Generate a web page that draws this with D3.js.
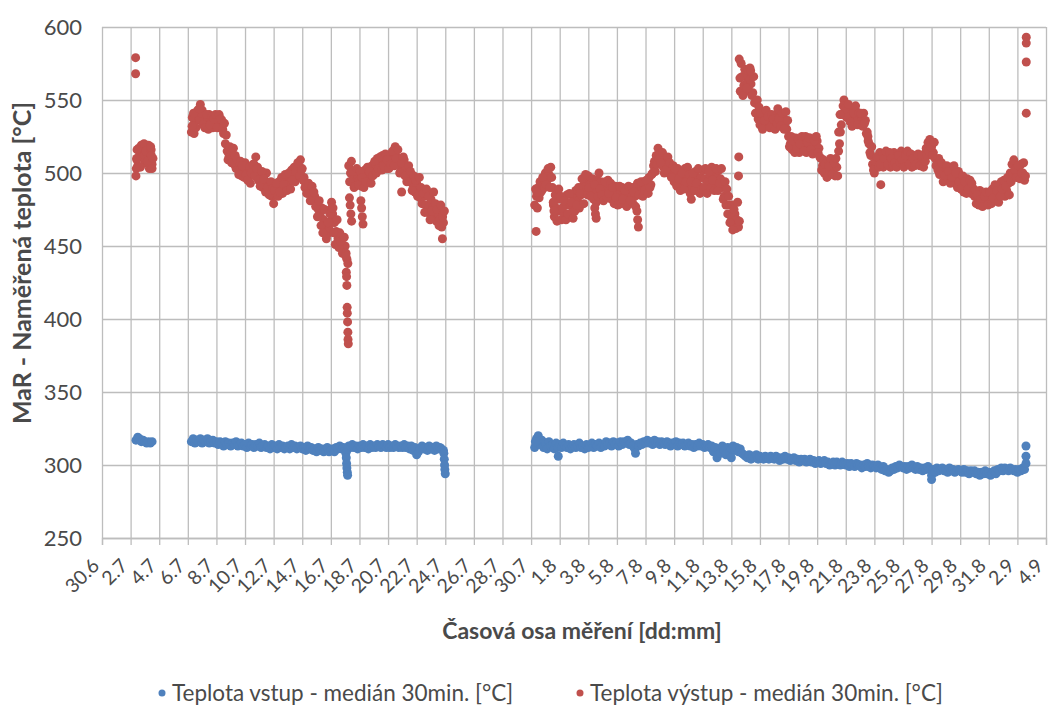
<!DOCTYPE html>
<html>
<head>
<meta charset="utf-8">
<script src="https://cdn.jsdelivr.net/npm/d3@7"></script>
<style>
  body { margin: 0; background: #fff; }
  text { font-family: Lato, "Open Sans", sans-serif; fill: #4a4a4a; }
</style>
</head>
<body>
<svg id="chart" width="1049" height="706"></svg>
<script>
// ---- axis labels ---------------------------------------------------------
// x: days since 30.6, one grid line every 2 days
const dateLabels = ["30.6","2.7","4.7","6.7","8.7","10.7","12.7","14.7","16.7","18.7","20.7","22.7",
  "24.7","26.7","28.7","30.7","1.8","3.8","5.8","7.8","9.8","11.8","13.8","15.8","17.8","19.8",
  "21.8","23.8","25.8","27.8","29.8","31.8","2.9","4.9"];
const dateTickDays = [0,2,4,6,8,10,12,14,16,18,20,22,24,26,28,30,32,34,36,38,40,42,44,46,48,50,52,54,56,58,60,62,64,66];
const tempTicks = [250, 300, 350, 400, 450, 500, 550, 600];

const seriesNames = ["Teplota vstup - medián 30min. [°C]", "Teplota výstup - medián 30min. [°C]"];
const seriesColors = ["#4F81BD", "#C0504D"];
const xTitle = "Časová osa měření [dd:mm]";
const yTitle = "MaR - Naměřená teplota [°C]";

// spacing of the plotted medians inside a run, in days (3 h);
// the "B" runs of the outlet are the readings taken half a step later
const STEP = 0.125;

// ---- inlet temperature (°C) ----------------------------------------------
const inletRun1Start = 2.375;
const inletRun1 = [317,319,318,316,317,316,315,316,315,316];

const inletRun2Start = 6.25;
const inletRun2 = [
  316,318,315,317,316,318,
  315,317,316,318,315,316,317,315,
  316,314,316,315,313,316,314,315,
  313,315,314,316,313,314,315,313,
  314,312,315,313,314,312,314,313,
  315,312,313,314,312,313,311,314,
  312,313,311,314,312,313,311,312,
  313,311,314,312,313,311,312,313,
  311,312,310,313,311,312,310,311,
  309,312,310,311,309,310,312,309,
  310,311,309,312,311,313,311,312,
  311,310,313,312,314,312,313,311,
  313,312,314,312,313,311,314,312,
  313,312,314,313,312,314,313,312,
  314,312,313,312,314,313,312,313,
  312,314,312,313,311,313,310,312,
  307,309,311,313,311,312,310,313,
  311,312,310,313,311,312,311,310];

const inletRun3Start = 30.25;
const inletRun3 = [
  312,318,320,314,317,312,
  315,311,316,313,314,311,315,312,
  314,312,315,313,312,314,311,313,
  314,312,313,315,312,313,311,314,
  312,313,315,312,314,313,315,312,
  314,313,316,314,315,313,316,314,
  315,313,316,314,316,315,317,314,
  315,313,311,314,313,315,314,316,
  315,317,315,316,314,317,315,316,
  314,316,315,314,316,315,313,315,
  314,316,313,315,314,315,313,314,
  315,313,314,312,314,313,315,313,
  314,312,313,314,312,313,309,312,
  305,311,308,313,310,307,312,309,
  311,313,310,312,309,311,308,307,
  306,305,307,304,306,305,307,304,
  306,305,304,306,305,304,306,305,
  304,306,305,303,305,304,306,304,
  305,303,304,305,303,304,302,304,
  303,304,302,303,304,302,303,301,
  302,303,301,302,303,301,302,300,
  301,302,300,302,301,300,302,301,
  300,301,299,301,300,299,301,300,
  300,298,300,299,301,299,298,300,
  299,298,300,298,297,299,296,297,
  295,296,298,297,299,298,300,299,
  298,299,297,299,298,300,298,297,
  299,297,298,296,298,297,299,297,
  293,297,295,298,296,297,298,296,
  297,295,298,296,297,295,296,297,
  296,295,297,295,296,294,296,295,
  296,294,295,293,295,294,296,294,
  295,293,294,296,294,297,296,298,
  296,298,297,296,298,297,296,297,
  295,297,296,298,297];

// isolated inlet readings [day, °C]
const inletSingles = [
  [17.05,308],[17.08,305],[17.10,301],[17.12,298],[17.15,295],[17.17,293],
  [23.90,308],[23.93,304],[23.95,300],[23.97,297],[24.00,294],
  [30.30,316],[31.90,306],[37.30,308],[44.00,305],[58.00,290],
  [64.60,313],[64.60,306],[64.60,301]];

// ---- outlet temperature (°C) ---------------------------------------------
const outletRun1Start = 2.375;
const outletRun1  = [498,505,512,519,513,507,513,519,512,506];
const outletRun1B = [509,517,504,511,520,515,508,503,516,510];

const outletRun2Start = 6.25;
const outletRun2 = [
  528,533,538,536,542,547,
  543,538,534,537,540,535,531,534,
  538,535,531,536,527,520,515,511,
  515,510,506,503,507,502,498,503,
  507,502,497,493,499,506,511,504,
  499,494,490,495,500,493,487,484,
  479,485,490,494,489,486,491,496,
  492,497,502,498,494,500,505,509,
  503,497,492,487,490,485,481,484,
  478,475,471,476,468,463,458,462,
  467,472,466,460,455,459,452,447,
  450,441,505,500,495,490,494,498,
  495,491,497,502,499,495,500,505,
  501,506,510,504,508,512,507,503,
  508,512,509,514,518,511,506,501,
  505,509,503,498,494,499,492,487,
  493,488,483,479,484,478,473,477,
  482,476,471,467,472,468,463,466];
const outletRun2B = [
  538,527,531,543,537,541,
  533,531,540,530,533,539,537,540,
  531,540,537,530,534,526,509,518,
  507,517,512,509,499,508,505,497,
  499,495,504,500,506,498,503,495,
  491,501,496,487,490,485,494,490,
  488,493,484,487,497,492,499,488,
  500,489,495,504,501,507,498,502,
  495,490,486,493,481,491,487,477,
  470,481,464,459,475,455,466,472,
  476,459,451,468,449,453,445,456,
  445,438,494,508,501,491,503,492,
  501,497,490,494,504,501,493,498,
  508,500,503,511,502,505,513,509,
  503,506,515,505,510,516,500,507,
  511,498,494,505,501,488,498,495,
  484,497,490,486,473,489,484,468,
  474,487,479,475,464,478,470,474];

const outletRun3Start = 30.25;
const outletRun3 = [
  478,484,490,494,488,496,
  500,495,499,504,490,470,476,482,
  474,468,473,479,485,478,472,477,
  483,488,481,476,485,491,486,494,
  498,492,487,482,489,495,500,494,
  489,484,490,495,488,482,486,491,
  487,482,486,490,484,480,485,489,
  483,479,484,488,492,486,490,494,
  489,493,497,492,500,508,512,517,
  513,508,504,509,505,500,503,498,
  494,499,503,497,492,498,503,496,
  491,486,490,495,501,496,491,497,
  502,496,490,494,499,504,498,493,
  497,502,496,490,484,478,472,478,
  470,465,472,468,463,556,566,560,
  568,562,556,561,555,548,541,537,
  533,538,542,537,533,538,534,531,
  536,540,544,538,533,538,534,530,
  525,520,516,521,524,518,514,519,
  523,518,514,519,524,520,515,519,
  522,517,510,505,500,504,498,502,
  506,501,498,504,515,528,540,550,
  545,540,544,539,534,538,542,537,
  533,538,541,536,528,520,512,506,
  500,505,510,514,508,504,509,513,
  508,504,509,514,510,506,511,515,
  510,505,509,513,508,504,509,512,
  507,511,506,509,513,517,521,523,
  518,514,510,506,510,505,500,504,
  499,495,500,504,498,493,497,501,
  496,491,487,492,496,490,486,490,
  484,479,483,488,482,478,481,485,
  480,484,489,485,481,486,490,494,
  489,484,488,493,500,506,509,503,
  497,502,506,500,495];
const outletRun3B = [
  489,476,483,487,497,490,
  492,503,490,497,478,485,467,489,
  484,476,481,468,472,486,480,469,
  474,478,490,486,496,479,499,485,
  490,484,496,492,480,484,489,485,
  481,494,483,486,493,490,479,483,
  478,491,479,482,488,477,491,481,
  490,487,477,493,485,494,484,488,
  495,486,490,499,505,501,506,510,
  507,514,500,502,511,507,497,505,
  503,491,496,488,500,489,494,504,
  499,494,500,488,493,503,486,489,
  490,503,486,501,490,495,488,503,
  488,493,503,482,494,489,484,466,
  478,475,462,480,467,575,553,571,
  558,570,564,553,566,541,550,545,
  541,530,536,543,539,531,540,537,
  530,534,537,532,541,530,542,536,
  518,525,522,514,517,523,520,525,
  515,525,521,524,516,513,522,525,
  514,511,502,509,506,497,505,510,
  499,507,510,498,520,533,546,544,
  538,547,535,532,541,546,533,541,
  541,532,534,527,522,514,518,502,
  508,511,504,506,513,510,515,506,
  514,510,505,507,504,512,507,509,
  504,512,515,506,513,510,505,506,
  513,505,512,504,508,512,515,518,
  512,521,505,502,499,507,494,498,
  505,501,493,497,505,500,490,494,
  489,498,494,486,489,495,493,487,
  488,485,478,482,477,484,487,478,
  487,479,483,492,488,480,484,489,
  495,491,497,485,494,500,502,497,
  505,496,500,507,498];

// isolated outlet readings [day, °C]
const outletSingles = [
  [2.35,579],[2.35,568],[2.40,503],[2.42,510],[2.45,516],[3.40,518],[3.45,512],[3.50,503],
  [6.30,532],[6.40,541],[6.80,544],
  [16.05,480],[16.15,476],
  [17.05,443],[17.08,432],[17.10,429],[17.12,423],[17.14,408],[17.15,404],
  [17.17,398],[17.19,391],[17.20,386],[17.22,383],
  [17.30,483],[17.35,478],[17.40,472],[17.45,467],
  [18.10,481],[18.15,476],[18.20,470],[18.25,465],
  [20.95,487],[23.80,455],
  [30.35,460],[30.40,487],[31.55,480],[31.60,474],
  [34.45,476],[34.50,472],[34.55,469],[37.40,474],[37.45,468],[37.50,463],
  [41.20,482],[43.90,466],[44.10,461],
  [44.50,498],[44.52,511],[44.55,578],[44.60,565],[45.30,572],[45.35,570],
  [51.50,528],[51.60,540],[53.55,525],[54.45,492],
  [64.62,593],[64.62,589],[64.62,576],[64.62,541]];

// ---- assemble series -------------------------------------------------------
function runPoints(start, values) {
  return values.map((v, i) => [start + i * STEP, v]);
}
const inletPoints = [
  ...runPoints(inletRun1Start, inletRun1),
  ...runPoints(inletRun2Start, inletRun2),
  ...runPoints(inletRun3Start, inletRun3),
  ...inletSingles];
const outletPoints = [
  ...runPoints(outletRun1Start, outletRun1),
  ...runPoints(outletRun1Start + STEP / 2, outletRun1B),
  ...runPoints(outletRun2Start, outletRun2),
  ...runPoints(outletRun2Start + STEP / 2, outletRun2B),
  ...runPoints(outletRun3Start, outletRun3),
  ...runPoints(outletRun3Start + STEP / 2, outletRun3B),
  ...outletSingles];
const series = [inletPoints, outletPoints];

// ---- layout ----------------------------------------------------------------
const svg = d3.select("#chart");
const plot = { left: 102, right: 1046, top: 27, bottom: 538 };

const x = d3.scaleLinear().domain([0, 66]).range([plot.left, plot.right]);
const y = d3.scaleLinear().domain([250, 600]).range([plot.bottom, plot.top]);

const gridColor = "#bdbdbd";

// horizontal grid + value labels
const yAxis = svg.append("g")
  .attr("transform", `translate(${plot.left},0)`)
  .call(d3.axisLeft(y).tickValues(tempTicks).tickSize(-(plot.right - plot.left)).tickPadding(20));
yAxis.select(".domain").remove();
yAxis.selectAll(".tick line").attr("stroke", gridColor).attr("stroke-width", 1.3);
yAxis.selectAll(".tick text")
  .style("font-size", "22px").attr("fill", "#4a4a4a");

// vertical grid every 2 days
const xGrid = svg.append("g")
  .attr("transform", `translate(0,${plot.bottom})`)
  .call(d3.axisBottom(x).tickValues(dateTickDays).tickSize(-(plot.bottom - plot.top)).tickFormat(""));
xGrid.select(".domain").remove();
xGrid.selectAll(".tick line").attr("stroke", gridColor).attr("stroke-width", 1.3);

// date axis: short tick marks below the baseline and rotated labels
const xAxis = svg.append("g")
  .attr("transform", `translate(0,${plot.bottom})`)
  .call(d3.axisBottom(x).tickValues(dateTickDays).tickSize(7)
    .tickFormat((d, i) => dateLabels[i]));
xAxis.select(".domain").attr("stroke", gridColor).attr("stroke-width", 1.3);
xAxis.selectAll(".tick line").attr("stroke", gridColor).attr("stroke-width", 1.3);
xAxis.selectAll(".tick text")
  .style("font-size", "19.5px").attr("fill", "#4a4a4a")
  .attr("text-anchor", "end")
  .attr("y", 0).attr("dy", "0.72em")
  .attr("transform", "translate(-12,19) rotate(-45)");

// markers
series.forEach((pts, si) => {
  svg.append("g")
    .selectAll("circle")
    .data(pts)
    .join("circle")
    .attr("cx", d => x(d[0]))
    .attr("cy", d => y(d[1]))
    .attr("r", 4.5)
    .attr("fill", seriesColors[si]);
});

// axis titles
svg.append("text")
  .attr("x", 582)
  .attr("y", 639)
  .attr("text-anchor", "middle")
  .style("font-size", "23px").style("font-weight", "bold")
  .attr("fill", "#404040")
  .text(xTitle);

svg.append("text")
  .attr("transform", `translate(31,263) rotate(-90)`)
  .attr("text-anchor", "middle")
  .style("font-size", "25px").style("font-weight", "bold")
  .attr("fill", "#404040")
  .text(yTitle);

// legend
const legendItems = [{ cx: 162, tx: 172 }, { cx: 580, tx: 590 }];
legendItems.forEach((it, i) => {
  svg.append("circle").attr("cx", it.cx).attr("cy", 693).attr("r", 3.5).attr("fill", seriesColors[i]);
  svg.append("text").attr("x", it.tx).attr("y", 701)
    .style("font-size", "22.5px").attr("fill", "#404040")
    .text(seriesNames[i]);
});
</script>
</body>
</html>
